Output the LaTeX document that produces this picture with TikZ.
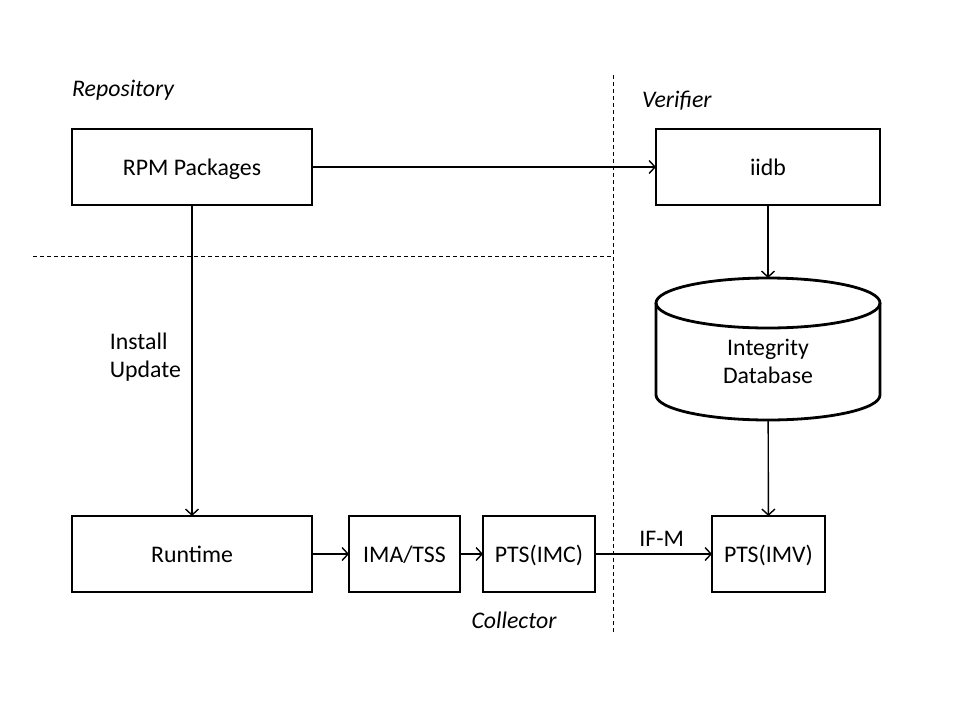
\documentclass[tikz,border=0pt]{standalone}
\usepackage{fontspec}
\setmainfont{Carlito}
\usetikzlibrary{arrows.meta, positioning}
\tikzstyle{arrow} = [line width=1.4pt,-{Straight Barb[length=6pt,width=13pt]}]
\tikzstyle{box} = [rectangle, minimum height=76pt, text height=18pt, text depth=2pt, outer sep=0pt, text centered, draw=black, line width=2.8pt]
\tikzstyle{region} = [font=\fontsize{23.8}{28}\selectfont\itshape, anchor=west, inner sep=0pt]
\tikzstyle{divider} = [line width=0.9pt, dash pattern=on 4pt off 3pt]

\begin{document}
\begin{tikzpicture}[x=1pt, y=-1pt, font=\fontsize{23.8}{28}\selectfont]
        \useasboundingbox (0,0) rectangle (960,720);

        \node (rpm) [box, minimum width=240pt] at (192,167) {RPM Packages};
        \node (iidb) [box, minimum width=224pt, right=344pt of rpm] {iidb};
        \node (db) [minimum width=224pt, minimum height=117pt, outer sep=0pt, align=center, below=98pt of iidb] {Integrity\\Database};
        \node (runtime) [box, minimum width=240pt, below=311pt of rpm] {Runtime};
        \node (ima) [box, minimum width=111pt, right=37pt of runtime] {IMA/TSS};
        \node (imc) [box, minimum width=112pt, right=23pt of ima] {PTS(IMC)};
        \node (imv) [box, minimum width=113pt, right=117pt of imc] {PTS(IMV)};

        % database cylinder
        \draw [line width=2.8pt] (db.north west) -- ([yshift=25pt]db.south west)
            arc[start angle=180, end angle=360, x radius=112pt, y radius=25pt]
            -- (db.north east);
        \draw [line width=2.8pt] (db.north) ellipse[x radius=112pt, y radius=25pt];

        % zone labels
        \node (repo) [region] at (72,90) {Repository};
        \node (verifier) [region] at (642,101) {Verifier};
        \node (collector) [region, anchor=center] at (514,620) {Collector};

        % zone borders
        \coordinate (vtop) at (613,75);
        \coordinate (vbot) at (613,632);
        \coordinate (hleft) at (33,256);
        \coordinate (hright) at (613,256);
        \draw [divider] (vtop) -- (vbot);
        \draw [divider] (hleft) -- (hright);

        \draw [arrow] (rpm) -- (iidb);
        \draw [arrow] (rpm) -- node[left=7pt, align=left, pos=0.49] {Install\\Update} (runtime);
        \draw [arrow] (iidb) -- ([yshift=25pt]db.north);
        \draw [arrow] (db) -- (imv);
        \draw [arrow] (runtime) -- (ima);
        \draw [arrow] (ima) -- (imc);
        \draw [arrow] (imc) -- node[above=3pt, pos=0.57] {IF-M} (imv);
    \end{tikzpicture}
\end{document}
